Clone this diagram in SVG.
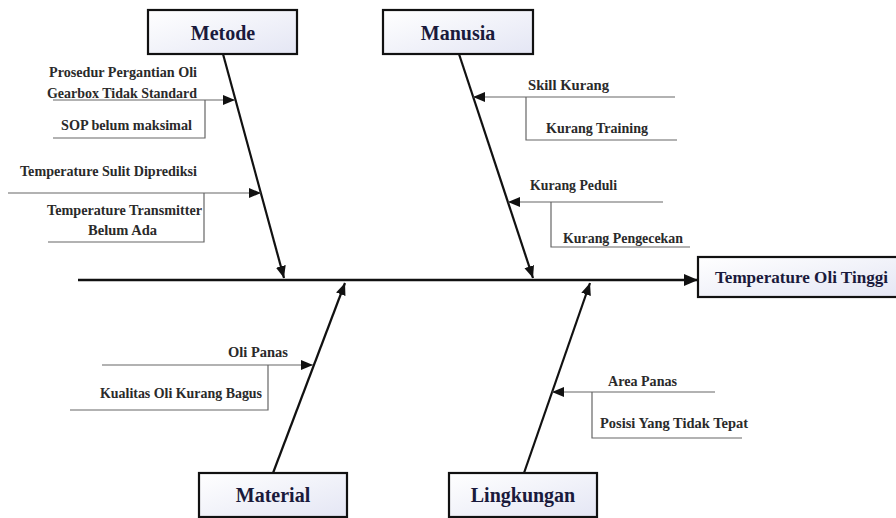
<svg xmlns="http://www.w3.org/2000/svg" width="896" height="518" viewBox="0 0 896 518">
<style>
.bg{fill:#ffffff}
.box{stroke:#111;stroke-width:2.2;fill:url(#boxfill)}
text{font-family:'Liberation Serif','DejaVu Serif','Times New Roman',serif}
.title{font-weight:bold;font-size:20px;fill:#1a1a3c;text-anchor:middle}
.result{font-weight:bold;font-size:17px;fill:#1a1a3c}
.sub{font-weight:bold;font-size:14px;fill:#2a2a2a}
.bone{stroke:#111;stroke-width:2.2;fill:none;marker-end:url(#ah)}
.spine{stroke:#111;stroke-width:2.6;fill:none;marker-end:url(#ahBig)}
.twig{stroke:#666;stroke-width:1.2;fill:none}
.twigA{stroke:#666;stroke-width:1.2;fill:none;marker-end:url(#ahS)}
</style>
<defs>
<linearGradient id="boxfill" x1="0" y1="0" x2="1" y2="1">
<stop offset="0" stop-color="#ffffff"/>
<stop offset="1" stop-color="#e4e6f4"/>
</linearGradient>
<marker id="ah" markerUnits="userSpaceOnUse" markerWidth="14" markerHeight="12" refX="12" refY="5" orient="auto">
<path d="M0,0 L12,5 L0,10 Z" fill="#111"/>
</marker>
<marker id="ahBig" markerUnits="userSpaceOnUse" markerWidth="16" markerHeight="14" refX="14" refY="6" orient="auto">
<path d="M0,0 L14,6 L0,12 Z" fill="#111"/>
</marker>
<marker id="ahS" markerUnits="userSpaceOnUse" markerWidth="14" markerHeight="12" refX="12" refY="5" orient="auto">
<path d="M0,0 L12,5 L0,10 Z" fill="#111"/>
</marker>
</defs>
<rect class="bg" x="0" y="0" width="896" height="518"/>

<g id="connectors">
<line class="spine" x1="78" y1="280" x2="698" y2="280"/>
<line class="bone" x1="223" y1="54" x2="284" y2="278"/>
<line class="bone" x1="459" y1="54" x2="533" y2="278"/>
<line class="bone" x1="273" y1="473" x2="345" y2="283"/>
<line class="bone" x1="524" y1="473" x2="590" y2="283"/>
</g>

<g id="metode">
<rect class="box" x="148" y="10" width="149" height="44"/>
<text class="title" x="223" y="40" font-family="Liberation Serif, serif">Metode</text>
</g>
<g id="manusia">
<rect class="box" x="383" y="10" width="150" height="44"/>
<text class="title" x="458" y="40" font-family="Liberation Serif, serif">Manusia</text>
</g>
<g id="material">
<rect class="box" x="199" y="473" width="148" height="44"/>
<text class="title" x="273" y="502" font-family="Liberation Serif, serif">Material</text>
</g>
<g id="lingkungan">
<rect class="box" x="449" y="473" width="148" height="44"/>
<text class="title" x="523" y="502" font-family="Liberation Serif, serif">Lingkungan</text>
</g>
<g id="result">
<rect class="box" x="698" y="257" width="205" height="40"/>
<text class="result" x="715" y="283" textLength="173" lengthAdjust="spacingAndGlyphs">Temperature Oli Tinggi</text>
</g>

<g id="metode-causes">
<text class="sub" x="49" y="77" textLength="148" lengthAdjust="spacingAndGlyphs">Prosedur Pergantian Oli</text>
<text class="sub" x="47" y="98" textLength="150" lengthAdjust="spacingAndGlyphs">Gearbox Tidak Standard</text>
<line class="twigA" x1="53" y1="100" x2="235" y2="100"/>
<polyline class="twig" points="205,100 205,138 53,138"/>
<text class="sub" x="61" y="130" textLength="131" lengthAdjust="spacingAndGlyphs">SOP belum maksimal</text>
<text class="sub" x="20" y="176" textLength="177" lengthAdjust="spacingAndGlyphs">Temperature Sulit Diprediksi</text>
<line class="twigA" x1="8" y1="193" x2="261" y2="193"/>
<polyline class="twig" points="204,193 204,242 48,242"/>
<text class="sub" x="47" y="215" textLength="155" lengthAdjust="spacingAndGlyphs">Temperature Transmitter</text>
<text class="sub" x="88" y="235" textLength="69" lengthAdjust="spacingAndGlyphs">Belum Ada</text>
</g>

<g id="manusia-causes">
<text class="sub" x="528" y="90" textLength="81" lengthAdjust="spacingAndGlyphs">Skill Kurang</text>
<line class="twigA" x1="675" y1="97" x2="473" y2="97"/>
<polyline class="twig" points="526,97 526,140 677,140"/>
<text class="sub" x="546" y="133" textLength="102" lengthAdjust="spacingAndGlyphs">Kurang Training</text>
<text class="sub" x="530" y="190" textLength="87" lengthAdjust="spacingAndGlyphs">Kurang Peduli</text>
<line class="twigA" x1="663" y1="202" x2="508" y2="202"/>
<polyline class="twig" points="551,202 551,247 690,247"/>
<text class="sub" x="563" y="243" textLength="120" lengthAdjust="spacingAndGlyphs">Kurang Pengecekan</text>
</g>

<g id="material-causes">
<text class="sub" x="228" y="357" textLength="60" lengthAdjust="spacingAndGlyphs">Oli Panas</text>
<line class="twigA" x1="102" y1="365" x2="313" y2="365"/>
<polyline class="twig" points="268,365 268,410 70,410"/>
<text class="sub" x="100" y="398" textLength="162" lengthAdjust="spacingAndGlyphs">Kualitas Oli Kurang Bagus</text>
</g>

<g id="lingkungan-causes">
<text class="sub" x="608" y="386" textLength="69" lengthAdjust="spacingAndGlyphs">Area Panas</text>
<line class="twigA" x1="715" y1="392" x2="552" y2="392"/>
<polyline class="twig" points="592,392 592,438 742,438"/>
<text class="sub" x="600" y="428" textLength="148" lengthAdjust="spacingAndGlyphs">Posisi Yang Tidak Tepat</text>
</g>
</svg>
